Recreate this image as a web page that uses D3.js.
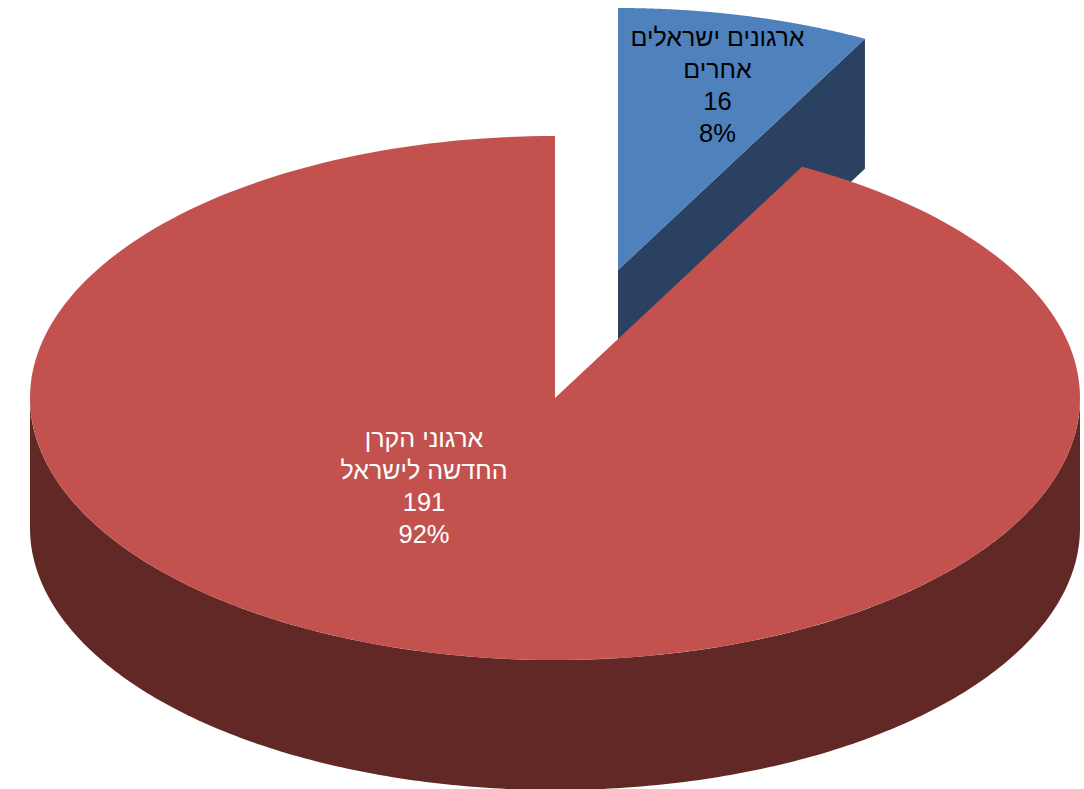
<!DOCTYPE html>
<html><head><meta charset="utf-8">
<script src="https://cdn.jsdelivr.net/npm/d3@7/dist/d3.min.js"></script>
<style>html,body{margin:0;padding:0;background:#fff}svg{display:block}text{font-family:"Liberation Sans",Arial,sans-serif;font-size:25.5px;text-anchor:middle}</style>
</head><body><div id="chart"></div>
<script>
const categories = ["ארגונים ישראלים אחרים", "ארגוני הקרן החדשה לישראל"];
const values = [16, 191];
const percents = ["8%", "92%"];
const labelLines = [["ארגונים ישראלים", "אחרים"], ["ארגוני הקרן", "החדשה לישראל"]];
const topColors = ["#4F81BD", "#C3524F"];
const sideColors = ["#2B4161", "#612826"];
const textColors = ["#000", "#fff"];

const W = 1084, H = 789, rx = 525, ry = 262, depth = 130;
const centers = [[618, 270], [555, 398]];
const labelPos = [[717.5, 46], [424, 447]];
const lh = 32;
const splitNudge = 0.004; // small perspective correction of the split between the slices

const svg = d3.select("#chart").append("svg").attr("width", W).attr("height", H);
const arcs = d3.pie().sort(null)(values);
arcs[0].endAngle += splitNudge;
arcs[1].startAngle += splitNudge;
const xS = d3.scaleLinear().domain([-1, 1]).range([-rx, rx]);
const yS = d3.scaleLinear().domain([-1, 1]).range([-ry, ry]);
const pt = (c, a, dz = 0) => [c[0] + xS(Math.sin(a)), c[1] + yS(-Math.cos(a)) + dz];
const line = d3.line();
const sample = (c, a0, a1, dz) => d3.range(0, 241).map(i => pt(c, a0 + (a1 - a0) * i / 240, dz));

function topPath(c, d) {
  return line([c, ...sample(c, d.startAngle, d.endAngle, 0)]) + "Z";
}

// blue slice: exposed cut wall, then top
const b = arcs[0], r = arcs[1];
svg.append("path").attr("fill", sideColors[0])
  .attr("d", line([centers[0], pt(centers[0], b.endAngle), pt(centers[0], b.endAngle, depth), [centers[0][0], centers[0][1] + depth]]) + "Z");
svg.append("path").attr("fill", topColors[0]).attr("d", topPath(centers[0], b));

// red slice: front wall, then top
const f0 = Math.PI / 2, f1 = Math.PI * 1.5;
svg.append("path").attr("fill", sideColors[1])
  .attr("d", line([...sample(centers[1], f0, f1, 0), ...sample(centers[1], f1, f0, depth)]) + "Z");
svg.append("path").attr("fill", topColors[1]).attr("d", topPath(centers[1], r));

// labels
arcs.forEach((d, i) => {
  const lines = [...labelLines[i], String(values[i]), percents[i]];
  const t = svg.append("text").attr("fill", textColors[i]);
  lines.forEach((s, j) => t.append("tspan")
    .attr("x", labelPos[i][0]).attr("y", labelPos[i][1] + j * lh)
    .style("font-size", j < labelLines[i].length ? "25px" : "25.5px")
    .text(s));
});
</script></body></html>
